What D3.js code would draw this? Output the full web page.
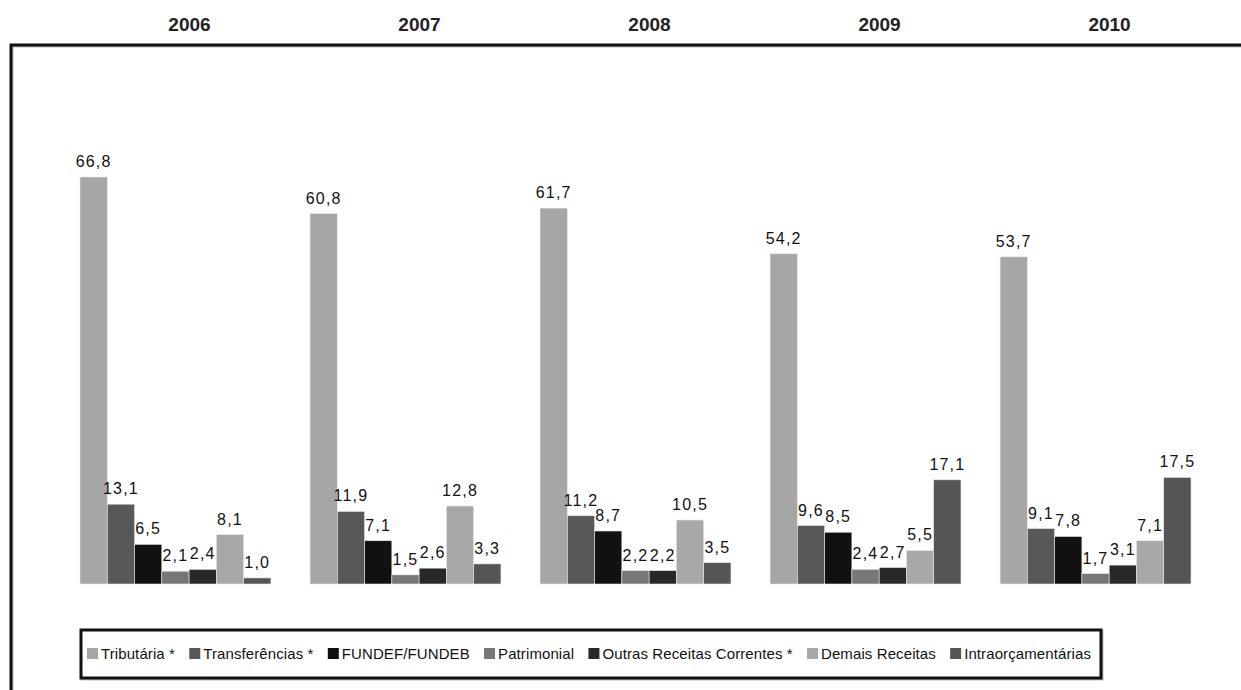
<!DOCTYPE html>
<html>
<head>
<meta charset="utf-8">
<script src="https://cdn.jsdelivr.net/npm/d3@7"></script>
<style>
  body { margin: 0; background: #fff; }
  svg { display: block; font-family: "Liberation Sans", Arial, sans-serif; }
  .year { font-weight: bold; font-size: 19px; fill: #222; }
  .val { font-size: 16px; fill: #111; letter-spacing: 1.2px; }
  .leg { font-size: 15px; fill: #111; letter-spacing: 0.1px; }
</style>
</head>
<body>
<svg width="1241" height="690"></svg>
<script>
const years = ["2006", "2007", "2008", "2009", "2010"];
const series = [
  "Tributária *",
  "Transferências *",
  "FUNDEF/FUNDEB",
  "Patrimonial",
  "Outras Receitas Correntes *",
  "Demais Receitas",
  "Intraorçamentárias"
];
const tributaria = [66.8, 60.8, 61.7, 54.2, 53.7];
const transferencias = [13.1, 11.9, 11.2, 9.6, 9.1];
const fundef = [6.5, 7.1, 8.7, 8.5, 7.8];
const patrimonial = [2.1, 1.5, 2.2, 2.4, 1.7];
const outras = [2.4, 2.6, 2.2, 2.7, 3.1];
const demais = [8.1, 12.8, 10.5, 5.5, 7.1];
const intra = [1.0, 3.3, 3.5, 17.1, 17.5];
const colors = ["#a6a6a6", "#585858", "#111111", "#777777", "#282828", "#a8a8a8", "#555555"];

const values = [tributaria, transferencias, fundef, patrimonial, outras, demais, intra];

const svg = d3.select("svg");

const x = d3.scaleBand().domain(years).range([80, 1191]).paddingInner(0.17).paddingOuter(0);
const xInner = d3.scaleBand().domain(series).range([0, x.bandwidth()]);
const y = d3.scaleLinear().domain([0, 66.8]).range([584, 177]);
const color = d3.scaleOrdinal().domain(series).range(colors);

const fmt = v => d3.format(".1f")(v).replace(".", ",");

// outer frame (runs past the picture right and bottom)
svg.append("path")
  .attr("d", "M11,700 L11,45 L1250,45")
  .attr("fill", "none")
  .attr("stroke", "#bbb")
  .attr("stroke-width", 3)
  .attr("transform", "translate(1,1)");
svg.append("path")
  .attr("d", "M11,700 L11,45 L1250,45")
  .attr("fill", "none")
  .attr("stroke", "#111")
  .attr("stroke-width", 3);

svg.selectAll("text.year")
  .data(years)
  .enter()
  .append("text")
  .attr("class", "year")
  .attr("x", d => x(d) + x.bandwidth() / 2 + 14)
  .attr("y", 31)
  .attr("text-anchor", "middle")
  .text(d => d);

const rows = [];
years.forEach((yr, i) => {
  series.forEach((s, j) => {
    rows.push({ year: yr, serie: s, value: values[j][i] });
  });
});

const groups = svg.selectAll("g.grp")
  .data(rows)
  .enter()
  .append("g")
  .attr("class", "grp")
  .attr("transform", d => `translate(${x(d.year) + xInner(d.serie)},0)`);

groups.append("rect")
  .attr("x", 0)
  .attr("y", d => y(d.value))
  .attr("width", xInner.bandwidth())
  .attr("height", d => y(0) - y(d.value))
  .attr("fill", d => color(d.serie))
  .attr("stroke", "#e8e8e8")
  .attr("stroke-width", 0.6);

groups.append("text")
  .attr("class", "val")
  .attr("x", xInner.bandwidth() / 2)
  .attr("y", d => y(d.value) - 10)
  .attr("text-anchor", "middle")
  .text(d => fmt(d.value));

// legend box
svg.append("rect")
  .attr("x", 82).attr("y", 631).attr("width", 1020).attr("height", 48)
  .attr("fill", "none").attr("stroke", "#bbb").attr("stroke-width", 3);
svg.append("rect")
  .attr("x", 81).attr("y", 630).attr("width", 1020).attr("height", 48)
  .attr("fill", "#fff").attr("stroke", "#111").attr("stroke-width", 3);

const legend = svg.append("g").attr("transform", "translate(0,654)");
const items = series.map(s => {
  const item = legend.append("g");
  item.append("rect")
    .attr("x", 0).attr("y", -6).attr("width", 11).attr("height", 11)
    .attr("fill", color(s));
  const t = item.append("text")
    .attr("class", "leg")
    .attr("x", 14)
    .attr("y", 5)
    .text(s);
  return { item, w: 14 + t.node().getComputedTextLength() };
});
// spread items between the box edges
const total = d3.sum(items, d => d.w);
const gap = (1091 - 87 - total) / (items.length - 1);
let lx = 87;
items.forEach(d => {
  d.item.attr("transform", `translate(${lx},0)`);
  lx += d.w + gap;
});
</script>
</body>
</html>
